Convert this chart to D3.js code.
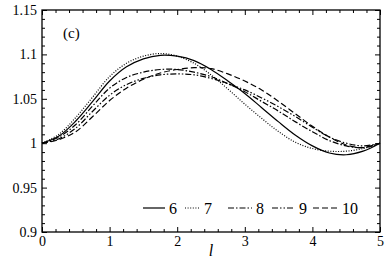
<!DOCTYPE html>
<html>
<head>
<meta charset="utf-8">
<style>
    body { margin: 0; background: #fff; }
</style>
</head>
<body>
<div id="vis"></div>
<script src="https://d3js.org/d3.v7.min.js"></script>
<script>
    // chart data
    let lValues = [0, 0.25, 0.5, 0.75, 1, 1.25, 1.5, 1.75, 2, 2.25, 2.5, 2.75, 3, 3.25, 3.5, 3.75, 4, 4.25, 4.5, 4.75, 5];
    let series6  = [1.000, 1.008, 1.025, 1.047, 1.070, 1.086, 1.095, 1.099, 1.098, 1.093, 1.083, 1.070, 1.056, 1.040, 1.024, 1.009, 0.997, 0.989, 0.987, 0.991, 1.000];
    let series7  = [1.000, 1.010, 1.029, 1.052, 1.075, 1.090, 1.098, 1.101, 1.098, 1.090, 1.077, 1.061, 1.044, 1.028, 1.013, 1.001, 0.994, 0.991, 0.991, 0.994, 1.000];
    let series8  = [1.000, 1.007, 1.021, 1.042, 1.062, 1.074, 1.080, 1.083, 1.083, 1.080, 1.075, 1.067, 1.058, 1.047, 1.036, 1.024, 1.013, 1.003, 0.997, 0.995, 1.000];
    let series9  = [1.000, 1.005, 1.017, 1.036, 1.054, 1.066, 1.073, 1.077, 1.078, 1.077, 1.073, 1.067, 1.060, 1.051, 1.041, 1.030, 1.018, 1.007, 1.000, 0.997, 1.000];
    let series10 = [1.000, 1.004, 1.013, 1.030, 1.048, 1.062, 1.072, 1.079, 1.083, 1.085, 1.084, 1.078, 1.070, 1.060, 1.047, 1.033, 1.019, 1.007, 0.998, 0.995, 1.000];
    let seriesNames = ["6", "7", "8", "9", "10"];
    let xTicks = [0, 1, 2, 3, 4, 5];
    let yTicks = [0.9, 0.95, 1, 1.05, 1.1, 1.15];
    let yTickLabels = ["0.9", "0.95", "1", "1.05", "1.1", "1.15"];

    let allSeries = [series6, series7, series8, series9, series10];
    // line styles: solid, dotted, dash-dot, dash-dot-dot, dashed
    let dashes = ["none", "1,1.6", "6,2,1.5,2", "6,2,1.5,2,1.5,2", "6,3"];
    let serif = "'Liberation Serif', serif";

    // set the dimensions and margins of the graph
    let margin = {top: 10, right: 10, bottom: 29, left: 42},
        width = 390 - margin.left - margin.right,
        height = 261 - margin.top - margin.bottom;

    let svg = d3.select("#vis")
        .append("svg")
        .attr("width", 390)
        .attr("height", 261)
        .append("g")
        .attr("transform", "translate(" + margin.left + "," + margin.top + ")");

    let x = d3.scaleLinear().domain([0, 5]).range([0, width]);
    let y = d3.scaleLinear().domain([0.9, 1.15]).range([height, 0]);

    let xMinor = d3.range(0, 5.001, 0.2).filter(function (v) { return Math.abs(v - Math.round(v)) > 1e-6; });
    let yMinor = d3.range(0.9, 1.1501, 0.01).filter(function (v) { return Math.abs(v * 20 - Math.round(v * 20)) > 1e-6; });

    function styleAxis(g) {
        g.attr("font-family", serif).attr("font-size", 14);
        g.select(".domain").remove();
        g.selectAll("line").attr("stroke", "#000").attr("stroke-width", 1);
        g.selectAll("text").attr("fill", "#000");
    }

    // bottom axis with labels
    svg.append("g")
        .attr("transform", "translate(0," + height + ")")
        .call(d3.axisBottom(x).tickValues(xTicks).tickFormat(d3.format("d")).tickSizeInner(-5).tickSizeOuter(0).tickPadding(4))
        .call(styleAxis);
    svg.append("g")
        .attr("transform", "translate(0," + height + ")")
        .call(d3.axisBottom(x).tickValues(xMinor).tickFormat("").tickSizeInner(-3).tickSizeOuter(0))
        .call(styleAxis);

    // top axis, ticks only
    svg.append("g")
        .call(d3.axisTop(x).tickValues(xTicks).tickFormat("").tickSizeInner(-5).tickSizeOuter(0))
        .call(styleAxis);
    svg.append("g")
        .call(d3.axisTop(x).tickValues(xMinor).tickFormat("").tickSizeInner(-3).tickSizeOuter(0))
        .call(styleAxis);

    // left axis with labels
    svg.append("g")
        .call(d3.axisLeft(y).tickValues(yTicks).tickFormat(function (d, i) { return yTickLabels[i]; }).tickSizeInner(-5).tickSizeOuter(0).tickPadding(5))
        .call(styleAxis);
    svg.append("g")
        .call(d3.axisLeft(y).tickValues(yMinor).tickFormat("").tickSizeInner(-3).tickSizeOuter(0))
        .call(styleAxis);

    // right axis, ticks only
    svg.append("g")
        .attr("transform", "translate(" + width + ",0)")
        .call(d3.axisRight(y).tickValues(yTicks).tickFormat("").tickSizeInner(-5).tickSizeOuter(0))
        .call(styleAxis);
    svg.append("g")
        .attr("transform", "translate(" + width + ",0)")
        .call(d3.axisRight(y).tickValues(yMinor).tickFormat("").tickSizeInner(-3).tickSizeOuter(0))
        .call(styleAxis);

    // frame
    svg.append("rect")
        .attr("width", width)
        .attr("height", height)
        .attr("fill", "none")
        .attr("stroke", "#000")
        .attr("stroke-width", 1.3);

    // curves
    let line = d3.line()
        .x(function (d, i) { return x(lValues[i]); })
        .y(function (d) { return y(d); })
        .curve(d3.curveCatmullRom);

    svg.append("g")
        .selectAll("path")
        .data(allSeries)
        .enter()
        .append("path")
        .attr("d", line)
        .attr("fill", "none")
        .attr("stroke", "#000")
        .attr("stroke-width", 1.2)
        .attr("stroke-dasharray", function (d, i) { return dashes[i]; });

    // panel label
    svg.append("text")
        .attr("x", 21)
        .attr("y", 28)
        .attr("font-family", serif)
        .attr("font-size", 15)
        .text("(c)");

    // x axis label
    svg.append("text")
        .attr("x", width / 2)
        .attr("y", height + 24)
        .attr("text-anchor", "middle")
        .attr("font-family", serif)
        .attr("font-size", 16)
        .attr("font-style", "italic")
        .text("l");

    // legend
    let legendX = [101, 143, 186, 230, 271];
    let legendLen = [22, 15, 24, 23, 25];
    let legendY = 198;
    let legend = svg.append("g");
    seriesNames.forEach(function (name, i) {
        legend.append("line")
            .attr("x1", legendX[i])
            .attr("x2", legendX[i] + legendLen[i])
            .attr("y1", legendY)
            .attr("y2", legendY)
            .attr("stroke", "#000")
            .attr("stroke-width", 1.2)
            .attr("stroke-dasharray", dashes[i]);
        legend.append("text")
            .attr("x", legendX[i] + legendLen[i] + 4)
            .attr("y", legendY + 5.5)
            .attr("font-family", serif)
            .attr("font-size", 16)
            .text(name);
    });
</script>
</body>
</html>
